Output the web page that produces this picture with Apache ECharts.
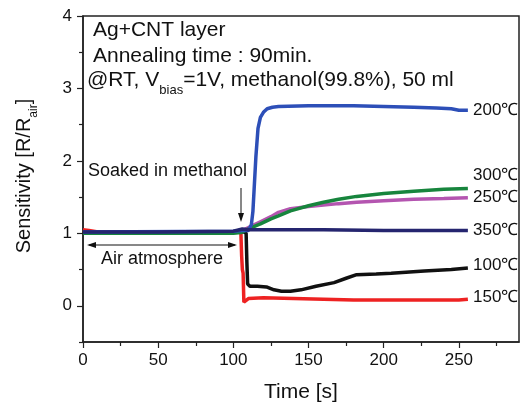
<!DOCTYPE html>
<html>
<head>
<meta charset="utf-8">
<script src="https://cdn.jsdelivr.net/npm/echarts@6/dist/echarts.min.js"></script>
<style>
  html, body { margin: 0; padding: 0; background: #fff; }
  #main { width: 526px; height: 407px; }
</style>
</head>
<body>
<div id="main"></div>
<script>
// axis ticks
var xLabels = [0, 50, 100, 150, 200, 250]
var xMinor = [25, 75, 125, 175, 225, 275]
var yLabels = [0, 1, 2, 3, 4]
var yMinor = [-0.5, 0.5, 1.5, 2.5, 3.5]

// 350C (navy)
var t350 = [0, 50, 100, 104, 106, 110, 130, 160, 200, 230, 256]
var v350 = [1.02, 1.02, 1.03, 1.05, 1.06, 1.05, 1.05, 1.05, 1.04, 1.04, 1.04]
// 200C (blue)
var t200 = [0, 100, 106, 110, 111, 112, 113, 113.8, 115, 116.4, 118, 120, 122.5, 126, 130, 150, 180, 200, 220, 235, 245, 250, 256]
var v200 = [1.02, 1.03, 1.04, 1.04, 1.06, 1.12, 1.3, 1.6, 2.06, 2.45, 2.6, 2.67, 2.72, 2.74, 2.75, 2.76, 2.76, 2.75, 2.74, 2.73, 2.72, 2.70, 2.70]
// 300C (green)
var t300 = [0, 100, 105, 108, 112, 118, 125, 130, 138, 150, 160, 170, 182, 200, 220, 240, 256]
var v300 = [1.0, 1.0, 1.01, 1.04, 1.08, 1.13, 1.2, 1.24, 1.31, 1.38, 1.43, 1.47, 1.51, 1.55, 1.58, 1.61, 1.62]
// 250C (magenta)
var t250 = [0, 100, 105, 108, 112, 118, 125, 130, 138, 150, 160, 170, 182, 200, 220, 240, 256]
var v250 = [1.01, 1.01, 1.02, 1.06, 1.1, 1.16, 1.23, 1.29, 1.34, 1.37, 1.39, 1.41, 1.43, 1.45, 1.47, 1.48, 1.49]
// 100C (black)
var t100 = [0, 100, 107, 108.5, 109, 109.5, 111, 116, 122, 127, 132, 138, 145, 155, 167, 175, 182, 195, 205, 227, 245, 256]
var v100 = [1.01, 1.02, 1.02, 1.0, 0.6, 0.3, 0.27, 0.27, 0.26, 0.22, 0.2, 0.2, 0.22, 0.27, 0.32, 0.38, 0.43, 0.44, 0.45, 0.48, 0.5, 0.52]
// 150C (red)
var t150 = [0, 4, 10, 50, 100, 105, 105.5, 106, 106.5, 107, 110, 120, 140, 180, 220, 250, 256]
var v150 = [1.05, 1.04, 1.02, 1.02, 1.02, 1.02, 0.7, 0.5, 0.45, 0.05, 0.1, 0.11, 0.1, 0.08, 0.08, 0.08, 0.09]

var font = 'Liberation Sans, Arial, sans-serif'

function pairs(t, v) {
    var rs = []
    for (var i = 0; i < t.length; i++) rs.push([t[i], v[i]])
    return rs
}

function line(name, t, v, color) {
    return {
        name: name,
        type: 'line',
        showSymbol: false,
        data: pairs(t, v),
        lineStyle: { color: color, width: 3.5 },
        itemStyle: { color: color }
    }
}

// temperature labels at the end of each curve
var endLabels = [
    ['200℃', 112], ['300℃', 177], ['250℃', 199],
    ['350℃', 232], ['100℃', 267], ['150℃', 299]
]

var graphics = []
for (var i = 0; i < endLabels.length; i++) {
    graphics.push({
        type: 'text', left: 473, top: endLabels[i][1] - 10,
        style: { text: endLabels[i][0], font: '17px ' + font, fill: '#111' }
    })
}

// info box text
graphics.push({
    type: 'text', left: 93, top: 20,
    style: { text: 'Ag+CNT layer', font: '21px ' + font, fill: '#111' }
})
graphics.push({
    type: 'text', left: 93, top: 46,
    style: { text: 'Annealing time : 90min.', font: '21px ' + font, fill: '#111' }
})
graphics.push({
    type: 'text', left: 87, top: 70,
    style: {
        text: '{m|@RT, V}{s|bias}{m|=1V, methanol(99.8%), 50 ml}',
        rich: {
            m: { fontSize: 21, fontFamily: font, lineHeight: 24, verticalAlign: 'top', fill: '#111' },
            s: { fontSize: 13, fontFamily: font, lineHeight: 13, padding: [14, 0, 0, 0], verticalAlign: 'top', fill: '#111' }
        }
    }
})

// axis names
graphics.push({
    type: 'text', x: 301, y: 392,
    style: { text: 'Time [s]', font: '21px ' + font, fill: '#111', textAlign: 'center', textVerticalAlign: 'middle' }
})
graphics.push({
    type: 'text', x: 26, y: 176, rotation: Math.PI / 2,
    style: {
        text: '{m|Sensitivity [R/R}{s|air}{m|]}',
        textAlign: 'center', textVerticalAlign: 'middle',
        rich: {
            m: { fontSize: 20, fontFamily: font, lineHeight: 23, verticalAlign: 'top', fill: '#111' },
            s: { fontSize: 12, fontFamily: font, lineHeight: 12, padding: [13, 0, 0, 0], verticalAlign: 'top', fill: '#111' }
        }
    }
})

// annotations
graphics.push({
    type: 'text', left: 88, top: 162,
    style: { text: 'Soaked in methanol', font: '18px ' + font, fill: '#111' }
})
graphics.push({
    type: 'text', x: 162, y: 259,
    style: { text: 'Air atmosphere', font: '18px ' + font, fill: '#111', textAlign: 'center', textVerticalAlign: 'middle' }
})
graphics.push({ type: 'line', shape: { x1: 89, y1: 245, x2: 235, y2: 245 }, style: { stroke: '#111', lineWidth: 1 } })
graphics.push({ type: 'polygon', shape: { points: [[87, 245], [96, 242], [96, 248]] }, style: { fill: '#111' } })
graphics.push({ type: 'polygon', shape: { points: [[237, 245], [228, 242], [228, 248]] }, style: { fill: '#111' } })
graphics.push({ type: 'line', shape: { x1: 241, y1: 188, x2: 241, y2: 218 }, style: { stroke: '#111', lineWidth: 1 } })
graphics.push({ type: 'polygon', shape: { points: [[241, 222], [238, 213], [244, 213]] }, style: { fill: '#111' } })

var axisColor = '#222'

var myChart = echarts.init(document.getElementById('main'))
myChart.setOption({
    animation: false,
    backgroundColor: '#fff',
    grid: {
        left: 83, right: 7, top: 16, bottom: 65,
        show: true, borderColor: axisColor, borderWidth: 1.5,
        containLabel: false, outerBoundsMode: 'none'
    },
    xAxis: [{
        type: 'value', min: 0, max: 290, interval: 25,
        axisLine: { show: true, onZero: false, lineStyle: { color: axisColor, width: 1.5 } },
        axisTick: { show: true, customValues: xLabels, length: 6, lineStyle: { color: axisColor, width: 1.2 } },
        axisLabel: { customValues: xLabels, fontSize: 17, fontFamily: font, color: '#111', margin: 10 },
        splitLine: { show: false }
    }, {
        type: 'value', min: 0, max: 290, interval: 25, position: 'bottom',
        axisLine: { show: false, onZero: false },
        axisTick: { show: true, customValues: xMinor, length: 4, lineStyle: { color: axisColor, width: 1.2 } },
        axisLabel: { show: false },
        splitLine: { show: false }
    }],
    yAxis: [{
        type: 'value', min: -0.5, max: 4, interval: 0.5,
        axisLine: { show: true, onZero: false, lineStyle: { color: axisColor, width: 1.5 } },
        axisTick: { show: true, customValues: yLabels, length: 6, lineStyle: { color: axisColor, width: 1.2 } },
        axisLabel: { customValues: yLabels, fontSize: 17, fontFamily: font, color: '#111', margin: 11 },
        splitLine: { show: false }
    }, {
        type: 'value', min: -0.5, max: 4, interval: 0.5, position: 'left',
        axisLine: { show: false, onZero: false },
        axisTick: { show: true, customValues: yMinor, length: 4, lineStyle: { color: axisColor, width: 1.2 } },
        axisLabel: { show: false },
        splitLine: { show: false }
    }],
    series: [
        line('150℃', t150, v150, '#ee2222'),
        line('100℃', t100, v100, '#111111'),
        line('250℃', t250, v250, '#b455b0'),
        line('300℃', t300, v300, '#17853d'),
        line('200℃', t200, v200, '#2d4fb8'),
        line('350℃', t350, v350, '#25256f')
    ],
    graphic: graphics
})
</script>
</body>
</html>
